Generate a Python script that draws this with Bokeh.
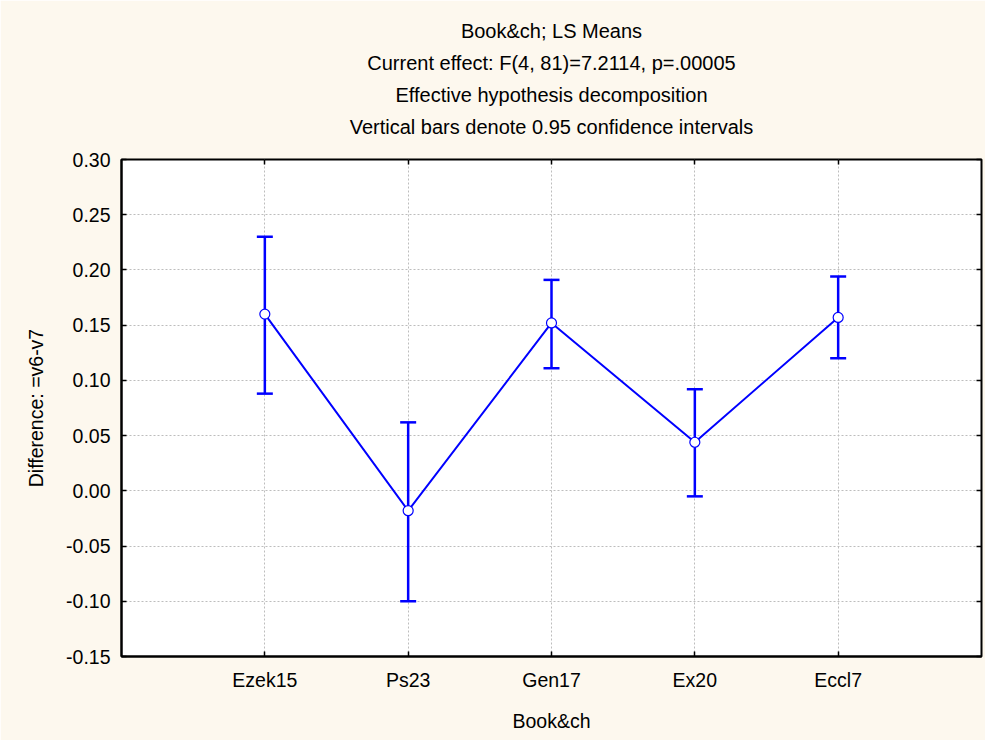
from bokeh.plotting import figure
from bokeh.models import (Range1d, FixedTicker, LinearAxis, Title, Whisker,
                          ColumnDataSource, NumeralTickFormatter, TeeHead,
                          CustomJSTickFormatter)
from bokeh.embed import file_html
from bokeh.resources import INLINE

categories = ["Ezek15", "Ps23", "Gen17", "Ex20", "Eccl7"]
means = [0.160, -0.018, 0.152, 0.044, 0.157]
upper = [0.230, 0.062, 0.191, 0.092, 0.194]
lower = [0.088, -0.100, 0.111, -0.005, 0.120]
y_ticks = [-0.15, -0.10, -0.05, 0.00, 0.05, 0.10, 0.15, 0.20, 0.25, 0.30]
title_lines = ["Book&ch; LS Means",
               "Current effect: F(4, 81)=7.2114, p=.00005",
               "Effective hypothesis decomposition",
               "Vertical bars denote 0.95 confidence intervals"]

FONT = "Liberation Sans, Arial, sans-serif"
FS = "19.5px"
TFS = "20px"
BG = "#FDF8EE"
BLUE = "#0000FF"

xpos = list(range(1, len(categories) + 1))
src = ColumnDataSource(dict(x=xpos, m=means, up=upper, lo=lower))

p = figure(width=985, height=740, output_backend="svg", toolbar_location=None,
           x_range=Range1d(0, len(categories) + 1), y_range=Range1d(-0.15, 0.30),
           min_border_left=121, min_border_right=4, min_border_bottom=84,
           min_border_top=159, title=title_lines[0])
p.background_fill_color = "white"
p.border_fill_color = BG
p.outline_line_color = "black"
p.outline_line_width = 2

p.title.align = "center"
p.title.text_font = FONT
p.title.text_font_size = TFS
p.title.text_font_style = "normal"
p.title.text_color = "black"
p.title.standoff = 8

# axes
p.xaxis.ticker = FixedTicker(ticks=xpos)
p.xaxis.major_label_overrides = {x: c for x, c in zip(xpos, categories)}
p.yaxis.ticker = FixedTicker(ticks=y_ticks)
p.yaxis.formatter = NumeralTickFormatter(format="0.00")
p.xaxis.axis_label = "Book&ch"
p.yaxis.axis_label = "Difference: =v6-v7"
for ax in (p.xaxis[0], p.yaxis[0]):
    ax.major_tick_in = 5
    ax.major_tick_out = 0
    ax.minor_tick_line_color = None
    ax.major_tick_line_color = "black"
    ax.major_tick_line_width = 1.5
    ax.axis_line_color = "black"
    ax.axis_line_width = 2
    ax.major_label_text_font = FONT
    ax.major_label_text_font_size = FS
    ax.major_label_text_color = "black"
    ax.axis_label_text_font = FONT
    ax.axis_label_text_font_size = FS
    ax.axis_label_text_font_style = "normal"
    ax.axis_label_text_color = "black"
p.xaxis.major_label_standoff = 12
p.yaxis.major_label_standoff = 11
p.xaxis.axis_label_standoff = 16
p.yaxis.axis_label_standoff = 16

# inward ticks on top and right (no labels)
blank = CustomJSTickFormatter(code="return '';")
top_ax = LinearAxis(ticker=FixedTicker(ticks=xpos), formatter=blank)
right_ax = LinearAxis(ticker=FixedTicker(ticks=y_ticks), formatter=blank)
for ax in (top_ax, right_ax):
    ax.major_tick_in = 5
    ax.major_tick_out = 0
    ax.minor_tick_line_color = None
    ax.major_tick_line_width = 1.5
    ax.axis_line_color = None
    ax.major_label_standoff = 0
p.add_layout(top_ax, "above")
p.add_layout(right_ax, "right")

# invisible spacer between the frame and the title block
spacer_ax = LinearAxis(ticker=FixedTicker(ticks=xpos), formatter=blank)
spacer_ax.major_tick_in = 0
spacer_ax.major_tick_out = 18
spacer_ax.major_tick_line_color = None
spacer_ax.minor_tick_line_color = None
spacer_ax.axis_line_color = None
spacer_ax.major_label_standoff = 0
p.add_layout(spacer_ax, "above")

for t in reversed(title_lines[1:]):
    p.add_layout(Title(text=t, align="center", text_font=FONT, text_font_size=TFS,
                       text_font_style="normal", text_color="black", standoff=8),
                 "above")

p.xgrid.ticker = FixedTicker(ticks=xpos)
p.ygrid.ticker = FixedTicker(ticks=y_ticks)
for g in (p.xgrid[0], p.ygrid[0]):
    g.grid_line_color = "#BDBDBD"
    g.grid_line_dash = "2 2"
    g.grid_line_width = 1

p.add_layout(Whisker(source=src, base="x", upper="up", lower="lo",
                     line_color=BLUE, line_width=2.5,
                     upper_head=TeeHead(size=16, line_color=BLUE, line_width=2.5),
                     lower_head=TeeHead(size=16, line_color=BLUE, line_width=2.5)))
p.line("x", "m", source=src, line_color=BLUE, line_width=2)
p.scatter("x", "m", source=src, size=10, fill_color="white", line_color=BLUE,
          line_width=1.2)

open("out.html", "w").write(file_html(p, INLINE))
